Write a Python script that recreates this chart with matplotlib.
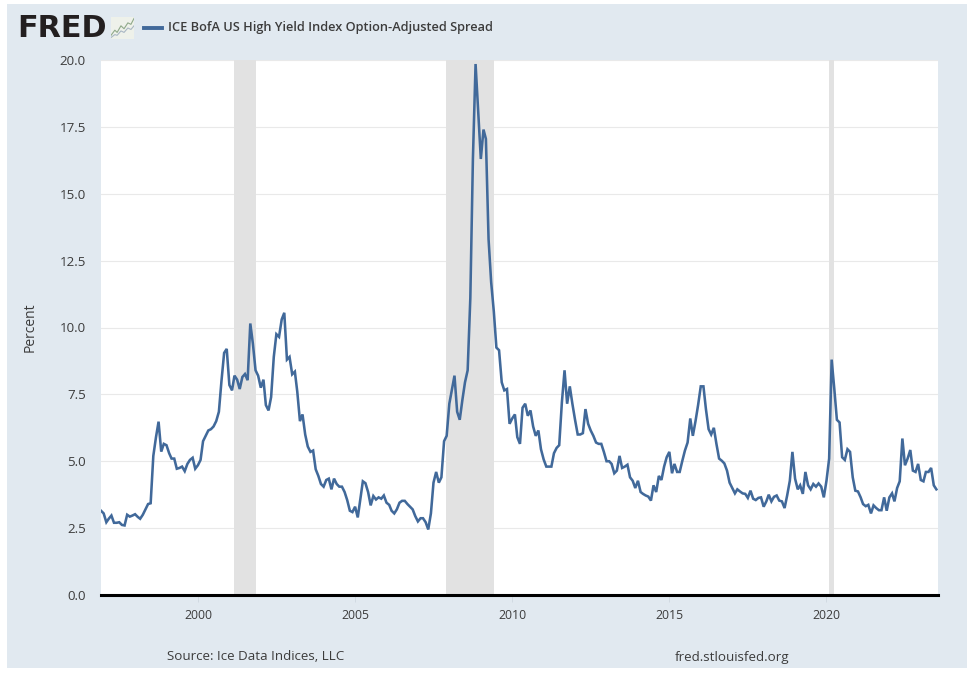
import matplotlib
matplotlib.use("Agg")
import matplotlib.pyplot as plt
import matplotlib.dates as mdates
import pandas as pd
from matplotlib.patches import Rectangle

W, H = 967, 673
BG = "#e1e9f0"
LINE = "#41699a"
TXT = "#3c3c3c"

plt.rcParams["font.family"] = ["Open Sans", "DejaVu Sans"]

# monthly values, first point Dec 1996
spread = [
    3.15, 3.05, 2.72, 2.85, 2.97, 2.70, 2.70, 2.72, 2.62, 2.60, 3.00, 2.93,
    2.97, 3.02, 2.92, 2.85, 3.00, 3.20, 3.40, 3.43, 5.20, 5.90, 6.48, 5.36,
    5.65, 5.60, 5.30, 5.10, 5.10, 4.72, 4.75, 4.80, 4.63, 4.90, 5.05, 5.13,
    4.72, 4.85, 5.05, 5.75, 5.95, 6.15, 6.20, 6.30, 6.50, 6.85, 8.00, 9.05,
    9.20, 7.85, 7.65, 8.20, 8.05, 7.70, 8.15, 8.26, 8.03, 10.15, 9.40, 8.40,
    8.20, 7.75, 8.05, 7.10, 6.90, 7.40, 8.90, 9.75, 9.65, 10.30, 10.55, 8.80,
    8.90, 8.25, 8.35, 7.60, 6.50, 6.75, 6.00, 5.55, 5.35, 5.40, 4.70, 4.45,
    4.15, 4.05, 4.30, 4.35, 3.95, 4.35, 4.15, 4.05, 4.05, 3.85, 3.55, 3.15,
    3.10, 3.30, 2.90, 3.55, 4.25, 4.18, 3.85, 3.35, 3.70, 3.57, 3.65, 3.60,
    3.72, 3.45, 3.37, 3.15, 3.05, 3.20, 3.45, 3.52, 3.52, 3.40, 3.30, 3.20,
    2.95, 2.75, 2.87, 2.87, 2.72, 2.45, 3.05, 4.20, 4.60, 4.20, 4.40, 5.75,
    5.95, 7.15, 7.70, 8.20, 6.85, 6.55, 7.30, 7.95, 8.40, 11.10, 16.30, 19.85,
    18.10, 16.30, 17.40, 17.05, 13.30, 11.70, 10.60, 9.25, 9.15, 7.95, 7.65, 7.70,
    6.40, 6.60, 6.75, 5.90, 5.65, 7.00, 7.15, 6.70, 6.90, 6.30, 5.95, 6.15,
    5.45, 5.07, 4.80, 4.80, 4.80, 5.30, 5.50, 5.60, 7.20, 8.40, 7.15, 7.80,
    7.15, 6.55, 6.00, 6.00, 6.05, 6.95, 6.40, 6.15, 5.95, 5.70, 5.65, 5.65,
    5.35, 5.00, 5.00, 4.90, 4.55, 4.65, 5.20, 4.75, 4.80, 4.87, 4.40, 4.27,
    4.00, 4.27, 3.85, 3.78, 3.72, 3.68, 3.53, 4.10, 3.85, 4.45, 4.30, 4.80,
    5.15, 5.35, 4.55, 4.90, 4.60, 4.60, 5.02, 5.40, 5.70, 6.60, 5.95, 6.50,
    7.10, 7.80, 7.80, 6.95, 6.20, 6.00, 6.25, 5.65, 5.10, 5.02, 4.92, 4.65,
    4.20, 4.00, 3.80, 3.95, 3.87, 3.80, 3.78, 3.63, 3.90, 3.60, 3.55, 3.63,
    3.65, 3.30, 3.50, 3.75, 3.50, 3.67, 3.72, 3.53, 3.50, 3.25, 3.72, 4.27,
    5.35, 4.35, 3.95, 4.10, 3.78, 4.60, 4.10, 3.95, 4.15, 4.05, 4.17, 4.05,
    3.65, 4.27, 5.10, 8.80, 7.70, 6.55, 6.45, 5.15, 5.05, 5.45, 5.35, 4.40,
    3.90, 3.87, 3.65, 3.40, 3.32, 3.37, 3.05, 3.35, 3.25, 3.17, 3.17, 3.65,
    3.15, 3.65, 3.80, 3.50, 4.00, 4.25, 5.85, 4.85, 5.10, 5.42, 4.65, 4.60,
    4.90, 4.30, 4.25, 4.60, 4.60, 4.75, 4.10, 3.95,
]
dates = pd.date_range("1996-12-01", periods=len(spread), freq="MS")

recessions = [("2001-03-01", "2001-11-01"), ("2007-11-25", "2009-06-01"), ("2020-02-01", "2020-04-01")]
y_ticks = [0.0, 2.5, 5.0, 7.5, 10.0, 12.5, 15.0, 17.5, 20.0]
x_years = [2000, 2005, 2010, 2015, 2020]
logo_x = [0, 1, 1.6, 2.6, 3.4, 4.4, 5.2, 6]
logo_b = [1.0, 2.4, 1.8, 3.6, 2.8, 4.4, 4.0, 5.6]
logo_c = [0.4, 1.2, 1.0, 2.2, 1.8, 3.0, 2.6, 3.6]

fig = plt.figure(figsize=(W / 100, H / 100), dpi=100, facecolor="white")
fig.add_artist(Rectangle((7 / W, 1 - 668 / H), 960 / W, 664 / H, transform=fig.transFigure,
                         facecolor=BG, edgecolor="none", zorder=-5))

ax = fig.add_axes([101 / W, 1 - 595 / H, 837 / W, 535 / H], facecolor="white")
for start, end in recessions:
    ax.axvspan(pd.Timestamp(start), pd.Timestamp(end), color="#e2e2e2", lw=0, zorder=1.5)
ax.plot(dates, spread, color=LINE, lw=1.85, solid_joinstyle="miter", zorder=3)

ax.set_xlim(pd.Timestamp("1996-12-01"), pd.Timestamp("2023-07-20"))
ax.set_ylim(0, 20)
ax.set_yticks(y_ticks)
ax.set_yticklabels([f"{v:.1f}" for v in y_ticks])
ax.set_xticks([pd.Timestamp(f"{y}-01-01") for y in x_years])
ax.xaxis.set_major_formatter(mdates.DateFormatter("%Y"))
ax.grid(axis="y", color="#e9e9e9", lw=0.8)
ax.set_axisbelow(True)
for s in ["top", "right", "left"]:
    ax.spines[s].set_visible(False)
ax.spines["bottom"].set_color("black")
ax.spines["bottom"].set_linewidth(2.2)
ax.tick_params(axis="y", length=0, labelsize=9.6, labelcolor=TXT, pad=11)
ax.tick_params(axis="x", length=5, width=0.6, color="#cfd8e0", labelsize=8.8, labelcolor=TXT, pad=5)

fig.text(30 / W, 1 - 327 / H, "Percent", rotation=90, ha="center", va="center", fontsize=10, color=TXT)
fig.text(17 / W, 1 - 28.5 / H, "FRED", ha="left", va="center", fontsize=21.8, fontweight="bold",
         family="DejaVu Sans", color="#231f20")
fig.add_artist(plt.Line2D([144 / W, 162 / W], [1 - 27.5 / H] * 2, color=LINE, lw=2.8, transform=fig.transFigure))
fig.text(168 / W, 1 - 27.5 / H, "ICE BofA US High Yield Index Option-Adjusted Spread", ha="left", va="center",
         fontsize=9.2, fontweight="semibold", color=TXT)
fig.text(167 / W, 1 - 657 / H, "Source: Ice Data Indices, LLC", ha="left", va="center", fontsize=9.6, color=TXT)
fig.text(675 / W, 1 - 657 / H, "fred.stlouisfed.org", ha="left", va="center", fontsize=9.6, color=TXT)

# small chart icon next to the logo
icon = fig.add_axes([111 / W, 1 - 39 / H, 23 / W, 22 / H], facecolor="#eef1ea")
icon.plot(logo_x, logo_b, color="#8fa98a", lw=0.8)
icon.plot(logo_x, logo_c, color="#a9b7c4", lw=0.8)
icon.set_xlim(0, 6)
icon.set_ylim(0, 6)
icon.set_xticks([])
icon.set_yticks([])
for s in icon.spines.values():
    s.set_visible(False)

fig.savefig("out.png", dpi=100)
